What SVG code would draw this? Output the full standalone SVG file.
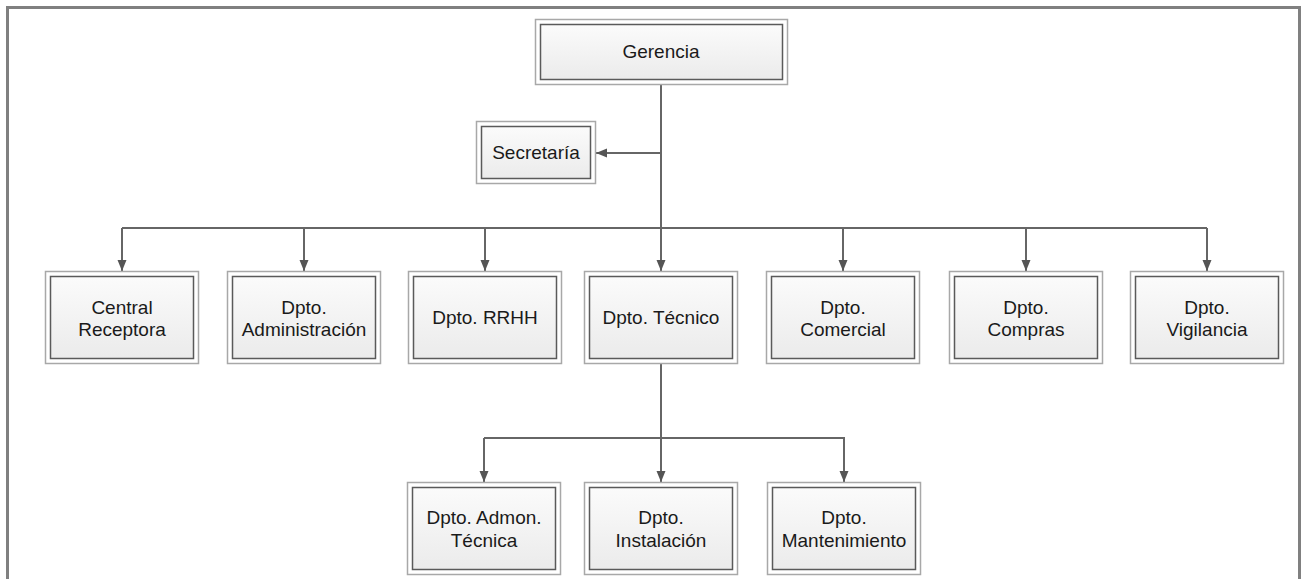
<svg xmlns="http://www.w3.org/2000/svg" width="1301" height="579" viewBox="0 0 1301 579">
<defs>
<linearGradient id="g" x1="0" y1="0" x2="0" y2="1">
<stop offset="0" stop-color="#fbfbfb"/>
<stop offset="1" stop-color="#ebebeb"/>
</linearGradient>
<marker id="arr" markerUnits="userSpaceOnUse" markerWidth="12" markerHeight="10" refX="11" refY="4.5" orient="auto">
<path d="M0,0 L11,4.5 L0,9 z" fill="#555"/>
</marker>
<style>
.o{fill:#fff;stroke:#a8a8a8;stroke-width:1.5}
.i{fill:url(#g);stroke:#5a5a5a;stroke-width:1.5}
.t{font-family:"Liberation Sans",Arial,sans-serif;font-size:19px;fill:#1a1a1a;text-anchor:middle}
.c{fill:none;stroke:#666;stroke-width:2}
.a{marker-end:url(#arr)}
</style>
</defs>
<rect width="1301" height="579" fill="#fff"/>
<path d="M7.5,579 V7.5 H1299.5 V579" fill="none" stroke="#808080" stroke-width="3"/>

<g id="connectors">
<path class="c" d="M661,84.5 V228"/>
<path class="c a" d="M661,153 H596"/>
<path class="c" d="M122,228 H1207"/>
<path class="c a" d="M122,228 V271"/>
<path class="c a" d="M304,228 V271"/>
<path class="c a" d="M485,228 V271"/>
<path class="c a" d="M661,228 V271"/>
<path class="c a" d="M843,228 V271"/>
<path class="c a" d="M1026,228 V271"/>
<path class="c a" d="M1207,228 V271"/>
<path class="c" d="M661,363.5 V438"/>
<path class="c" d="M484,438 H845"/>
<path class="c a" d="M484,438 V482"/>
<path class="c a" d="M661,438 V482"/>
<path class="c a" d="M844,438 V482"/>
</g>

<g id="gerencia">
<rect class="o" x="535.5" y="19.5" width="252" height="65"/>
<rect class="i" x="540.5" y="24.5" width="242" height="55"/>
<text class="t" x="661" y="57.5">Gerencia</text>
</g>

<g id="secretaria">
<rect class="o" x="476.5" y="121.5" width="119" height="62"/>
<rect class="i" x="481.5" y="126.5" width="109" height="52"/>
<text class="t" x="536" y="158.5">Secretaría</text>
</g>

<g id="central">
<rect class="o" x="45.5" y="271.5" width="153" height="92"/>
<rect class="i" x="50.5" y="276.5" width="143" height="82"/>
<text class="t" x="122" y="313.5">Central</text>
<text class="t" x="122" y="335.5">Receptora</text>
</g>

<g id="administracion">
<rect class="o" x="227.5" y="271.5" width="153" height="92"/>
<rect class="i" x="232.5" y="276.5" width="143" height="82"/>
<text class="t" x="304" y="313.5">Dpto.</text>
<text class="t" x="304" y="335.5">Administración</text>
</g>

<g id="rrhh">
<rect class="o" x="408.5" y="271.5" width="153" height="92"/>
<rect class="i" x="413.5" y="276.5" width="143" height="82"/>
<text class="t" x="485" y="323.5">Dpto. RRHH</text>
</g>

<g id="tecnico">
<rect class="o" x="584.5" y="271.5" width="153" height="92"/>
<rect class="i" x="589.5" y="276.5" width="143" height="82"/>
<text class="t" x="661" y="323.5">Dpto. Técnico</text>
</g>

<g id="comercial">
<rect class="o" x="766.5" y="271.5" width="153" height="92"/>
<rect class="i" x="771.5" y="276.5" width="143" height="82"/>
<text class="t" x="843" y="313.5">Dpto.</text>
<text class="t" x="843" y="335.5">Comercial</text>
</g>

<g id="compras">
<rect class="o" x="949.5" y="271.5" width="153" height="92"/>
<rect class="i" x="954.5" y="276.5" width="143" height="82"/>
<text class="t" x="1026" y="313.5">Dpto.</text>
<text class="t" x="1026" y="335.5">Compras</text>
</g>

<g id="vigilancia">
<rect class="o" x="1130.5" y="271.5" width="153" height="92"/>
<rect class="i" x="1135.5" y="276.5" width="143" height="82"/>
<text class="t" x="1207" y="313.5">Dpto.</text>
<text class="t" x="1207" y="335.5">Vigilancia</text>
</g>

<g id="admon-tecnica">
<rect class="o" x="407.5" y="482.5" width="153" height="92"/>
<rect class="i" x="412.5" y="487.5" width="143" height="82"/>
<text class="t" x="484" y="524">Dpto. Admon.</text>
<text class="t" x="484" y="547">Técnica</text>
</g>

<g id="instalacion">
<rect class="o" x="584.5" y="482.5" width="153" height="92"/>
<rect class="i" x="589.5" y="487.5" width="143" height="82"/>
<text class="t" x="661" y="524">Dpto.</text>
<text class="t" x="661" y="547">Instalación</text>
</g>

<g id="mantenimiento">
<rect class="o" x="767.5" y="482.5" width="153" height="92"/>
<rect class="i" x="772.5" y="487.5" width="143" height="82"/>
<text class="t" x="844" y="524">Dpto.</text>
<text class="t" x="844" y="547">Mantenimiento</text>
</g>
</svg>
